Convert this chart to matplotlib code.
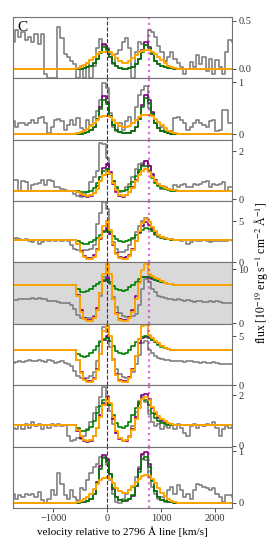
import matplotlib
matplotlib.use('Agg')
import matplotlib.pyplot as plt
import numpy as np

plt.rcParams['font.family'] = ['Liberation Serif', 'DejaVu Serif']
plt.rcParams['mathtext.fontset'] = 'stix'

# velocity bin centres [km/s]
vel = np.arange(-1740, 2341, 60)
i0 = 19          # first bin of the model cores (v = -600)

# observed spectra (grey), one per panel
gray = [
    [0.28, 0.40, 0.33, 0.38, 0.30, 0.33, 0.28, 0.36, 0.26, 0.36, -0.05, -0.1, -0.1, -0.1,
     0.44, 0.32, 0.15, 0.12, 0.08, 0.05, -0.1, 0.03, -0.1, 0.06, -0.1, 0.03, 0.22, 0.31,
     0.25, 0.22, 0.15, 0.05, 0.15, 0.20, 0.28, 0.32, 0.22, -0.1, 0.18, 0.28, 0.26, 0.25,
     0.40, 0.38, 0.33, 0.24, 0.18, 0.08, 0.12, 0.18, 0.10, 0.06, 0.02, -0.05, 0.00, 0.07,
     0.02, 0.14, 0.05, 0.12, -0.02, 0.10, -0.05, 0.09, 0.02, -0.05, 0.17, 0.30, 0.28],
    [0.25, 0.15, 0.22, 0.22, 0.18, 0.22, 0.28, 0.22, 0.31, 0.33, 0.22, 0.03, 0.15, 0.28,
     0.29, 0.25, 0.09, 0.18, 0.28, 0.18, 0.31, 0.12, 0.09, 0.28, 0.18, 0.34, 0.44, 0.66,
     0.98, 0.89, 0.41, 0.15, 0.06, 0.22, 0.09, 0.25, 0.34, 0.22, 0.53, 0.76, 0.85, 0.93,
     0.50, 0.41, 0.22, 0.12, 0.15, 0.06, 0.03, 0.06, 0.31, 0.34, 0.28, 0.22, 0.09, 0.15,
     0.22, 0.28, 0.22, 0.18, 0.15, 0.25, 0.28, 0.06, 0.09, 0.47, 0.47, 0.22, 0.22],
    [0.81, 0.81, 0.37, 0.78, 0.71, 0.37, 0.58, 0.64, 0.67, 0.81, 0.58, 0.81, 0.78, 0.51,
     0.51, 0.44, 0.40, 0.37, 0.37, 0.23, 0.16, 0.12, 0.23, 0.30, 0.71, 0.92, 1.19, 2.36,
     2.32, 1.74, 1.05, 0.78, 0.44, 0.30, 0.34, 0.51, 0.64, 0.92, 1.26, 1.47, 1.53, 1.60,
     1.40, 0.99, 0.71, 0.58, 0.44, 0.51, 0.44, 0.37, 0.58, 0.51, 0.58, 0.64, 0.51, 0.53,
     0.64, 0.58, 0.64, 0.71, 0.78, 0.51, 0.64, 0.58, 0.64, 0.71, 0.37, 0.51, 0.51],
    [2.76, 2.97, 2.80, 2.76, 2.80, 2.56, 2.48, 2.68, 2.28, 2.48, 2.68, 2.64, 2.72, 2.60,
     2.68, 2.56, 2.72, 2.64, 2.07, 1.67, 1.46, 1.42, 1.46, 1.50, 1.67, 2.07, 4.7, 6.1,
     7.4, 6.5, 3.5, 2.48, 1.67, 1.26, 1.26, 1.46, 2.07, 2.9, 3.7, 4.5, 5.1, 5.4,
     4.9, 3.9, 3.37, 3.09, 2.97, 2.89, 2.80, 2.72, 2.68, 2.72, 2.64, 2.68, 2.28, 2.48,
     2.68, 2.56, 2.64, 2.68, 2.56, 2.48, 2.64, 2.56, 2.60, 2.64, 2.56, 2.68, 2.64],
    [4.3, 4.3, 4.4, 4.5, 4.4, 4.5, 4.6, 4.5, 4.6, 4.5, 4.4, 4.2, 4.1, 4.1,
     3.9, 3.8, 3.8, 3.7, 3.4, 2.6, 1.5, 1.0, 0.9, 0.9, 1.0, 1.4, 2.5, 5.0,
     8.6, 8.8, 7.3, 4.9, 3.0, 1.9, 1.3, 1.2, 1.2, 1.3, 1.8, 3.4, 6.3, 8.2,
     7.6, 6.4, 5.7, 5.1, 4.9, 4.7, 4.5, 4.4, 4.3, 4.4, 4.3, 4.2, 4.3, 4.2,
     4.0, 4.1, 4.2, 4.0, 3.9, 4.1, 4.0, 4.1, 3.9, 3.8, 3.7, 3.7, 3.8],
    [2.3, 2.4, 2.5, 2.35, 2.45, 2.6, 2.5, 2.45, 2.6, 2.5, 2.4, 2.55, 2.45, 2.3,
     2.4, 2.5, 2.3, 2.15, 1.9, 1.4, 0.95, 0.75, 0.7, 0.75, 0.9, 1.3, 2.5, 4.5,
     5.9, 5.4, 3.9, 2.7, 1.6, 1.1, 0.8, 0.75, 0.8, 1.3, 2.2, 3.1, 4.3, 4.5,
     3.6, 3.3, 3.0, 2.8, 2.7, 2.6, 2.55, 2.5, 2.45, 2.5, 2.45, 2.4, 2.45, 2.5,
     2.4, 2.35, 2.3, 2.35, 2.25, 2.3, 2.35, 2.25, 2.2, 2.15, 2.1, 2.2, 2.15],
    [0.72, 0.65, 0.81, 0.65, 0.85, 0.72, 0.95, 0.79, 0.85, 0.65, 0.81, 0.72, 0.85, 0.79,
     0.85, 0.79, 0.81, 0.39, 0.19, 0.23, 0.32, 0.25, 0.39, 0.65, 0.92, 1.3, 1.55, 1.92,
     2.32, 1.99, 1.39, 0.85, 0.52, 0.32, 0.19, 0.19, 0.39, 0.79, 1.32, 1.79, 1.92, 1.72,
     1.25, 0.92, 0.79, 0.85, 0.65, 0.79, 0.72, 0.81, 0.65, 0.85, 0.72, 0.52, 0.39, 0.79,
     0.85, 0.72, 0.81, 0.76, 0.85, 0.81, 0.95, 0.72, 0.39, 0.65, 0.79, 0.72, 0.79],
    [0.18, 0.08, 0.15, 0.12, 0.18, 0.15, 0.18, 0.12, 0.21, 0.05, -0.01, 0.08, 0.25, 0.15,
     0.57, 0.37, 0.15, 0.08, 0.25, 0.12, 0.05, 0.28, 0.25, 0.44, 0.57, 0.70, 0.76, 0.89,
     0.89, 0.73, 0.44, 0.18, 0.02, 0.00, 0.08, 0.18, 0.25, 0.31, 0.50, 0.70, 0.92, 0.83,
     0.50, 0.31, 0.18, 0.08, 0.12, 0.02, 0.25, 0.31, 0.18, 0.34, 0.25, 0.12, 0.18, 0.08,
     0.25, 0.37, 0.34, 0.31, 0.28, 0.25, 0.28, 0.18, 0.12, 0.02, 0.15, 0.15, 0.12],
]

# continuum level of the models in each panel
cont = [0.0, 0.0, 0.37, 2.75, 7.1, 3.55, 0.81, 0.0]

# model cores, v = -600 ... 1320 km/s
purple = [
    [0, 0, 0, 0.01, 0.02, 0.03, 0.06, 0.10, 0.18, 0.26, 0.21, 0.12, 0.06, 0.03, 0.01, 0, 0,
     0.01, 0.02, 0.05, 0.10, 0.20, 0.28, 0.23, 0.15, 0.08, 0.05, 0.03, 0.02, 0.01, 0.01, 0, 0],
    [0, 0, 0, 0.02, 0.04, 0.08, 0.15, 0.30, 0.52, 0.73, 0.62, 0.36, 0.18, 0.09, 0.04, 0.02, 0.02,
     0.03, 0.06, 0.14, 0.30, 0.56, 0.76, 0.66, 0.42, 0.22, 0.12, 0.07, 0.04, 0.02, 0.01, 0, 0],
    [0.36, 0.30, 0.20, 0.13, 0.12, 0.16, 0.28, 0.55, 0.95, 1.30, 1.47, 1.15, 0.65, 0.30, 0.15, 0.12, 0.18,
     0.30, 0.50, 0.82, 1.15, 1.45, 1.58, 1.40, 1.05, 0.80, 0.65, 0.55, 0.48, 0.43, 0.40, 0.38, 0.37],
    [2.75, 2.3, 1.4, 0.8, 0.55, 0.55, 0.85, 1.6, 2.8, 3.8, 4.2, 3.5, 2.1, 1.1, 0.65, 0.53, 0.6,
     0.9, 1.6, 2.6, 3.6, 4.5, 4.9, 4.6, 4.1, 3.7, 3.35, 3.1, 2.95, 2.87, 2.8, 2.77, 2.75],
    [7.1, 5.2, 2.4, 1.0, 0.6, 0.6, 1.1, 2.8, 5.5, 7.8, 8.3, 7.6, 4.5, 1.9, 0.8, 0.6, 0.65,
     1.1, 2.4, 5.0, 7.6, 8.5, 8.6, 8.3, 8.2, 8.0, 7.8, 7.6, 7.4, 7.25, 7.15, 7.1, 7.1],
    [3.55, 2.6, 1.3, 0.6, 0.4, 0.4, 0.7, 1.6, 3.2, 4.6, 5.0, 4.5, 2.6, 1.1, 0.55, 0.4, 0.45,
     0.8, 1.6, 3.0, 4.3, 4.85, 4.9, 4.8, 4.6, 4.4, 4.2, 4.0, 3.8, 3.7, 3.6, 3.55, 3.55],
    [0.81, 0.6, 0.32, 0.18, 0.16, 0.2, 0.38, 0.72, 1.2, 1.7, 1.92, 1.65, 1.05, 0.52, 0.25, 0.17, 0.2,
     0.35, 0.65, 1.15, 1.65, 2.0, 2.05, 1.85, 1.5, 1.25, 1.08, 0.98, 0.91, 0.87, 0.84, 0.82, 0.81],
    [0, 0, 0.01, 0.02, 0.04, 0.08, 0.18, 0.40, 0.72, 0.92, 0.85, 0.56, 0.27, 0.11, 0.05, 0.03, 0.04,
     0.07, 0.14, 0.32, 0.65, 0.95, 0.99, 0.75, 0.45, 0.22, 0.11, 0.05, 0.03, 0.02, 0.01, 0, 0],
]
green = [
    [0, 0, 0, 0.01, 0.02, 0.03, 0.06, 0.10, 0.16, 0.23, 0.20, 0.12, 0.06, 0.03, 0.01, 0, 0,
     0.01, 0.02, 0.05, 0.10, 0.18, 0.25, 0.22, 0.15, 0.08, 0.05, 0.03, 0.02, 0.01, 0.01, 0, 0],
    [0, 0, 0, 0.02, 0.04, 0.08, 0.15, 0.30, 0.48, 0.66, 0.58, 0.36, 0.18, 0.09, 0.04, 0.02, 0.02,
     0.03, 0.06, 0.14, 0.30, 0.52, 0.69, 0.60, 0.40, 0.22, 0.12, 0.07, 0.04, 0.02, 0.01, 0, 0],
    [0.37, 0.34, 0.30, 0.29, 0.30, 0.36, 0.48, 0.68, 0.95, 1.18, 1.26, 1.05, 0.75, 0.50, 0.36, 0.33, 0.38,
     0.50, 0.72, 0.98, 1.22, 1.38, 1.40, 1.20, 0.90, 0.68, 0.55, 0.47, 0.42, 0.39, 0.37, 0.37, 0.37],
    [2.75, 2.6, 2.4, 2.28, 2.3, 2.45, 2.7, 3.0, 3.35, 3.7, 3.9, 3.7, 3.2, 2.8, 2.55, 2.48, 2.55,
     2.75, 3.0, 3.35, 3.7, 4.0, 4.2, 4.1, 3.8, 3.45, 3.2, 3.0, 2.88, 2.8, 2.77, 2.75, 2.75],
    [7.1, 6.4, 5.8, 5.7, 5.9, 6.3, 6.8, 7.3, 7.7, 8.0, 8.0, 7.5, 6.9, 6.4, 6.1, 6.0, 6.2,
     6.6, 7.1, 7.6, 8.1, 8.5, 8.6, 8.5, 8.3, 8.0, 7.8, 7.6, 7.4, 7.25, 7.15, 7.1, 7.1],
    [3.55, 3.2, 2.95, 2.9, 3.0, 3.3, 3.6, 4.0, 4.4, 4.75, 4.85, 4.5, 4.0, 3.5, 3.25, 3.2, 3.3,
     3.6, 4.0, 4.4, 4.75, 4.95, 5.0, 4.85, 4.6, 4.35, 4.1, 3.9, 3.75, 3.65, 3.6, 3.55, 3.55],
    [0.81, 0.7, 0.6, 0.58, 0.62, 0.75, 0.98, 1.28, 1.58, 1.82, 1.85, 1.6, 1.2, 0.9, 0.75, 0.72, 0.78,
     0.95, 1.2, 1.5, 1.75, 1.85, 1.82, 1.6, 1.3, 1.1, 0.98, 0.9, 0.86, 0.83, 0.82, 0.81, 0.81],
    [0, 0, 0.01, 0.02, 0.04, 0.08, 0.18, 0.38, 0.65, 0.86, 0.80, 0.55, 0.28, 0.12, 0.06, 0.04, 0.05,
     0.08, 0.15, 0.32, 0.60, 0.85, 0.89, 0.70, 0.42, 0.22, 0.12, 0.06, 0.03, 0.02, 0.01, 0, 0],
]
orange = [
    [0, 0.01, 0.02, 0.04, 0.06, 0.09, 0.12, 0.15, 0.17, 0.18, 0.18, 0.17, 0.14, 0.11, 0.08, 0.06, 0.06,
     0.08, 0.11, 0.14, 0.17, 0.19, 0.20, 0.20, 0.18, 0.15, 0.12, 0.09, 0.06, 0.03, 0.02, 0.01, 0],
    [0, 0.02, 0.04, 0.07, 0.11, 0.16, 0.22, 0.28, 0.33, 0.36, 0.36, 0.33, 0.28, 0.22, 0.17, 0.14, 0.14,
     0.17, 0.22, 0.28, 0.33, 0.37, 0.38, 0.38, 0.35, 0.30, 0.24, 0.18, 0.12, 0.07, 0.04, 0.02, 0],
    [0.37, 0.32, 0.24, 0.18, 0.16, 0.18, 0.26, 0.45, 0.75, 1.02, 1.19, 1.05, 0.70, 0.38, 0.20, 0.16, 0.20,
     0.30, 0.48, 0.75, 1.02, 1.20, 1.26, 1.15, 0.95, 0.78, 0.65, 0.56, 0.49, 0.44, 0.41, 0.39, 0.37],
    [2.75, 2.2, 1.2, 0.6, 0.40, 0.40, 0.70, 1.5, 3.0, 4.5, 5.0, 4.0, 2.2, 1.0, 0.5, 0.37, 0.45,
     0.8, 1.5, 2.6, 3.8, 4.8, 5.25, 4.9, 4.3, 3.8, 3.4, 3.15, 3.0, 2.9, 2.82, 2.78, 2.75],
    [7.1, 5.0, 2.0, 0.8, 0.35, 0.35, 0.9, 2.5, 5.5, 9.0, 11.0, 9.0, 4.5, 1.8, 0.6, 0.35, 0.4,
     0.9, 2.0, 4.5, 7.5, 9.8, 11.0, 9.0, 8.7, 8.4, 8.1, 7.8, 7.5, 7.3, 7.2, 7.1, 7.1],
    [3.55, 2.6, 1.2, 0.5, 0.3, 0.3, 0.6, 1.5, 3.2, 5.5, 6.0, 5.0, 2.6, 1.0, 0.45, 0.3, 0.35,
     0.7, 1.5, 3.0, 4.7, 6.0, 6.1, 5.1, 4.8, 4.5, 4.25, 4.0, 3.8, 3.7, 3.6, 3.55, 3.55],
    [0.81, 0.62, 0.38, 0.24, 0.19, 0.22, 0.38, 0.70, 1.15, 1.6, 1.88, 1.7, 1.15, 0.6, 0.3, 0.2, 0.22,
     0.35, 0.62, 1.05, 1.5, 1.85, 1.92, 1.8, 1.55, 1.35, 1.18, 1.05, 0.96, 0.9, 0.86, 0.83, 0.81],
    [0, 0.02, 0.04, 0.07, 0.12, 0.18, 0.26, 0.36, 0.44, 0.49, 0.50, 0.46, 0.38, 0.29, 0.22, 0.19, 0.20,
     0.25, 0.32, 0.40, 0.47, 0.52, 0.54, 0.52, 0.46, 0.38, 0.29, 0.20, 0.13, 0.08, 0.04, 0.02, 0],
]

ylims = [(-0.1, 0.54), (-0.1, 1.07), (-0.07, 2.48), (-0.03, 7.5),
         (-0.1, 11.2), (-0.02, 6.25), (-0.04, 2.4), (-0.1, 1.09)]
yticks = [[0, 0.5], [0, 1], [0, 2], [0, 5], [0, 10], [0, 5], [0, 2], [0, 1]]
v2803 = 769


def full(core, c):
    # model is flat at the continuum outside the core
    n = len(vel) - i0 - len(core)
    return np.r_[[c] * i0, core, [c] * n]


fig, axes = plt.subplots(8, 1, figsize=(2.74, 5.48), dpi=100, sharex=True)
fig.subplots_adjust(left=0.047, right=0.847, top=0.969, bottom=0.073, hspace=0)

for k, ax in enumerate(axes):
    ax.step(vel, gray[k], where='mid', color='gray', lw=1.2)
    ax.step(vel, full(purple[k], cont[k]), where='mid', color='purple', lw=1.2)
    ax.step(vel, full(green[k], cont[k]), where='mid', color='green', lw=1.2)
    ax.step(vel, full(orange[k], cont[k]), where='mid', color='orange', lw=1.4)
    ax.axvline(0, color='purple', ls='--', lw=0.8)
    ax.axvline(v2803, color='m', ls=':', lw=1.6, alpha=0.55)
    ax.set_xlim(-1750, 2320)
    ax.set_ylim(ylims[k])
    ax.set_yticks(yticks[k])
    ax.yaxis.tick_right()
    ax.tick_params(labelsize=7.5, length=3, width=0.6, colors='0.2', pad=1.5)
    ax.set_xticks([-1000, 0, 1000, 2000])
    for s in ax.spines.values():
        s.set_color('0.45')
    if k == 4:
        ax.set_facecolor('#d9d9d9')

axes[0].text(0.02, 0.93, 'C', transform=axes[0].transAxes, fontsize=11, va='top')
axes[-1].set_xlabel('velocity relative to 2796 Å line [km/s]', fontsize=8, labelpad=2)
fig.text(0.952, 0.503, 'flux [$10^{-19}$ erg s$^{-1}$ cm$^{-2}$ Å$^{-1}$]',
         rotation=90, ha='center', va='center', fontsize=8.5)

plt.savefig('out.png', dpi=100)
